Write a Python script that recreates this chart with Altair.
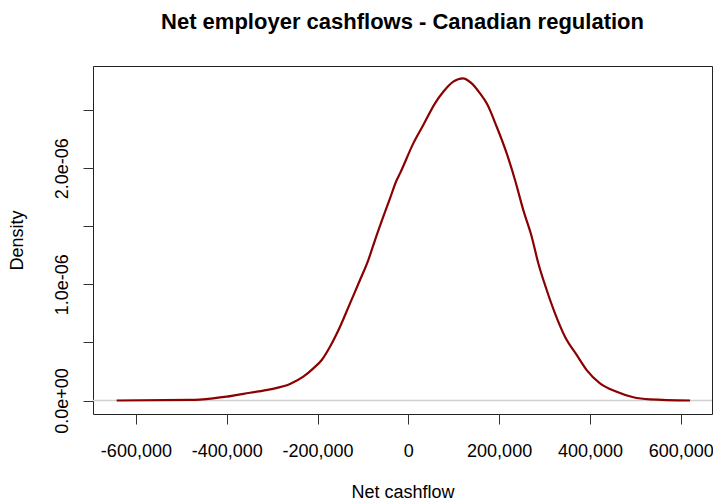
import altair as alt
import pandas as pd

# Density curve (x in dollars, y in density)
cashflow = [-642300, -480000, -430200, -400000, -348700, -304600, -260600,
            -231300, -209200, -190700, -172500, -150400, -128400, -106400,
            -88100, -73300, -55100, -40300, -25500, -18300, 11000, 33000,
            58800, 77100, 99100, 119800, 139600, 157900, 172700, 194700,
            216700, 235000, 253300, 271800, 286300, 304800, 323100, 345100,
            370900, 392900, 422200, 459000, 495600, 532400, 620500]
density = [0.0, 0.005e-6, 0.019e-6, 0.033e-6, 0.067e-6, 0.096e-6, 0.142e-6,
           0.205e-6, 0.277e-6, 0.349e-6, 0.463e-6, 0.635e-6, 0.836e-6, 1.037e-6,
           1.209e-6, 1.381e-6, 1.582e-6, 1.740e-6, 1.898e-6, 1.955e-6, 2.213e-6, 2.371e-6,
           2.558e-6, 2.657e-6, 2.744e-6, 2.773e-6, 2.730e-6, 2.644e-6, 2.558e-6, 2.356e-6,
           2.127e-6, 1.898e-6, 1.639e-6, 1.410e-6, 1.181e-6, 0.951e-6, 0.750e-6, 0.549e-6,
           0.392e-6, 0.262e-6, 0.148e-6, 0.076e-6, 0.028e-6, 0.010e-6, 0.0]

x_ticks = [-600000, -400000, -200000, 0, 200000, 400000, 600000]
y_ticks = [0.0, 0.5e-6, 1.0e-6, 1.5e-6, 2.0e-6, 2.5e-6]
zero_line = [0.0]

curve_df = pd.DataFrame({"cashflow": cashflow, "density": density})
zero_df = pd.DataFrame({"y": zero_line})

FONT = "Liberation Sans"

x_scale = alt.Scale(domain=[-694500, 668900], nice=False, zero=False)
y_scale = alt.Scale(domain=[-0.116e-6, 2.879e-6], nice=False, zero=False)

common = dict(
    domain=False,
    grid=False,
    ticks=True,
    tickSize=10,
    tickColor="#333333",
    tickWidth=1,
    labelFont=FONT,
    labelFontSize=18,
    labelColor="#000000",
    titleFont=FONT,
    titleFontSize=18,
    titleFontWeight="normal",
    titleColor="#000000",
    labelOverlap=False,
    labelFlush=False,
)

x_axis = alt.Axis(
    values=x_ticks,
    title="Net cashflow",
    labelExpr="(datum.value < 0 ? '-' : '') + format(abs(datum.value), ',')",
    labelPadding=18,
    titlePadding=37,
    titleBaseline="alphabetic",
    **common,
)
y_axis = alt.Axis(
    values=y_ticks,
    title="Density",
    labelAngle=270,
    labelAlign="center",
    labelBaseline="bottom",
    labelPadding=12,
    labelExpr="datum.value < 1e-12 ? '0.0e+00' : (abs(datum.value*1e6 - round(datum.value*1e6)) < 0.01 ? format(datum.value*1e6, '.1f') + 'e-06' : '')",
    titlePadding=27,
    **common,
)

zero = alt.Chart(zero_df).mark_rule(color="#d0d0d0", strokeWidth=1.5).encode(
    y=alt.Y("y:Q", scale=y_scale, axis=y_axis)
)

line = alt.Chart(curve_df).mark_line(
    color="#8B0000", strokeWidth=2.2, interpolate="monotone"
).encode(
    x=alt.X("cashflow:Q", scale=x_scale, axis=x_axis),
    y=alt.Y("density:Q", scale=y_scale, axis=y_axis),
)

chart = (
    alt.layer(zero, line)
    .properties(
        width=619,
        height=348,
        autosize="none",
        background="white",
        padding={"left": 93, "top": 66, "right": 1, "bottom": 87},
        title=alt.TitleParams(
            "Net employer cashflows - Canadian regulation",
            font=FONT,
            fontSize=22,
            fontWeight="bold",
            color="#000000",
            anchor="middle",
            baseline="alphabetic",
            offset=15,
        ),
    )
    .configure_view(stroke="#222222", strokeWidth=1)
)

chart.save("out.html", embed_options={"renderer": "svg", "actions": False})
